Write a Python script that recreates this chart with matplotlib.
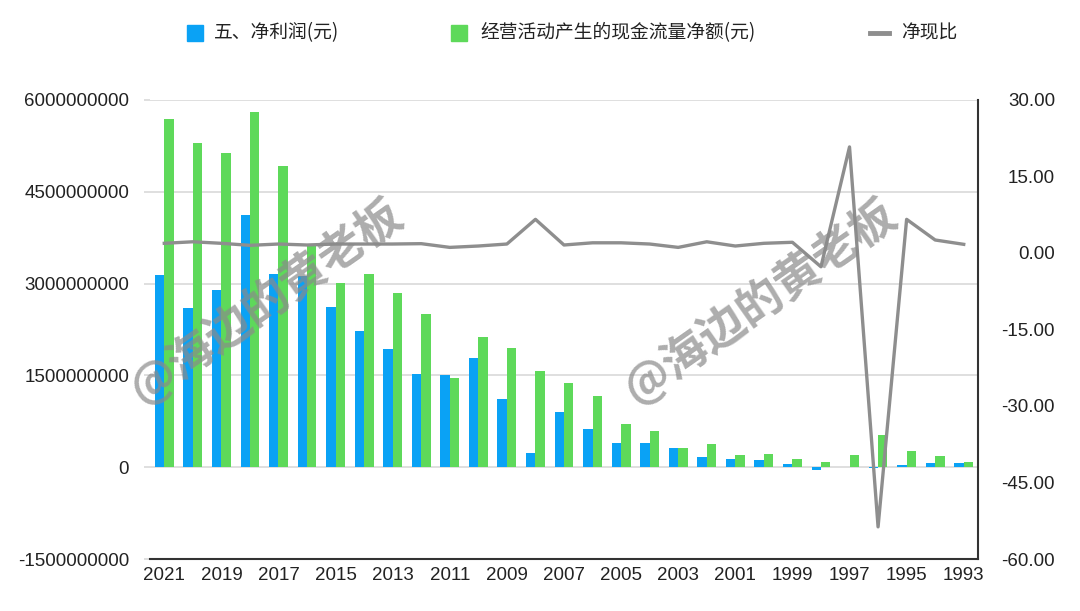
import matplotlib
matplotlib.use("Agg")
import matplotlib.pyplot as plt
from matplotlib import font_manager
from matplotlib.patches import Rectangle
from matplotlib.lines import Line2D
import numpy as np

years = [str(y) for y in range(2021, 1992, -1)]
net_profit = [3.14e9, 2.60e9, 2.90e9, 4.12e9, 3.16e9, 3.12e9, 2.61e9, 2.22e9, 1.93e9, 1.52e9,
              1.50e9, 1.79e9, 1.11e9, 0.23e9, 0.91e9, 0.62e9, 0.39e9, 0.39e9, 0.31e9, 0.16e9,
              0.14e9, 0.11e9, 0.055e9, -0.04e9, 0.01e9, -0.01e9, 0.04e9, 0.07e9, 0.065e9]
op_cash = [5.69e9, 5.29e9, 5.13e9, 5.81e9, 4.92e9, 3.64e9, 3.01e9, 3.16e9, 2.84e9, 2.51e9,
           1.46e9, 2.12e9, 1.95e9, 1.58e9, 1.37e9, 1.17e9, 0.71e9, 0.59e9, 0.31e9, 0.38e9,
           0.20e9, 0.22e9, 0.13e9, 0.09e9, 0.20e9, 0.53e9, 0.27e9, 0.18e9, 0.09e9]
cash_ratio = [1.9, 2.2, 1.9, 1.5, 1.76, 1.57, 1.76, 1.76, 1.76, 1.83,
              1.1, 1.37, 1.76, 6.6, 1.57, 2.0, 2.0, 1.76, 1.1, 2.2,
              1.37, 1.9, 2.1, -2.7, 20.8, -53.7, 6.6, 2.55, 1.7]
left_ticks = [-1500000000, 0, 1500000000, 3000000000, 4500000000, 6000000000]
right_ticks = [-60, -45, -30, -15, 0, 15, 30]
legend_labels = ["五、净利润(元)", "经营活动产生的现金流量净额(元)", "净现比"]
watermark = "@海边的黄老板"

def pick(names):
    for n in names:
        try:
            font_manager.findfont(n, fallback_to_default=False)
            return n
        except Exception:
            pass
    return "DejaVu Sans"

num_font = pick(["Liberation Sans", "DejaVu Sans"])
cjk = ["Noto Sans CJK SC", "DejaVu Sans"]

BLUE = "#0AA2F5"
GREEN = "#5ED95A"
GRAY = "#8E8E8E"
GRID = "#D9D9D9"

W, H = 1080, 611
fig = plt.figure(figsize=(10.8, 6.11), dpi=100)
L, R, T, B = 150, 978, 100, 559
ax = fig.add_axes([L / W, 1 - B / H, (R - L) / W, (B - T) / H])
x = np.arange(len(years))
w = 0.33
ax.bar(x - w / 2, net_profit, width=w, color=BLUE, zorder=2)
ax.bar(x + w / 2, op_cash, width=w, color=GREEN, zorder=2)
ax.set_ylim(-1.5e9, 6e9)
ax.set_xlim(-0.5, len(years) - 0.5)
ax.set_yticks(left_ticks)
ax.set_yticklabels([str(t) for t in left_ticks], fontfamily=num_font, fontsize=13.5)
ax.yaxis.grid(True, color=GRID, linewidth=1.2, zorder=0)
ax.set_axisbelow(True)
ax.set_xticks(x[::2])
ax.set_xticklabels(years[::2], fontfamily=num_font, fontsize=13.5)
ax.tick_params(axis="x", length=0, pad=6, colors="#222222")
ax.tick_params(axis="y", length=4, width=1.2, color=GRID, pad=11, labelcolor="#222222")
for s in ["left", "top", "right"]:
    ax.spines[s].set_visible(False)
ax.spines["bottom"].set_color("#333333")
ax.spines["bottom"].set_linewidth(1.5)

ax2 = ax.twinx()
ax2.plot(x, cash_ratio, color=GRAY, linewidth=2.4, zorder=3)
ax2.set_ylim(-60, 30)
ax2.set_yticks(right_ticks)
ax2.set_yticklabels([f"{t:.2f}" for t in right_ticks], fontfamily=num_font, fontsize=13.5,
                    ha="right")
ax2.tick_params(axis="y", length=0, pad=55.5, colors="#222222")
for s in ["left", "top", "bottom"]:
    ax2.spines[s].set_visible(False)
ax2.spines["right"].set_color("#333333")
ax2.spines["right"].set_linewidth(1.5)

# watermarks
for cx, cy in [(0.247, 0.505), (0.704, 0.505)]:
    fig.text(cx, cy, watermark, fontfamily=cjk, fontsize=33, fontweight="bold",
             color="#8a8a8a", alpha=0.7, rotation=35, ha="center", va="center",
             rotation_mode="anchor", zorder=10)

# legend (placed in figure pixels)
ly = 33
def fx(px):
    return px / W
def fy(py):
    return 1 - py / H
sq = 16
fig.patches.append(Rectangle((fx(187), fy(ly + sq / 2)), sq / W, sq / H, color=BLUE,
                             transform=fig.transFigure, figure=fig))
fig.text(fx(214), fy(ly), legend_labels[0], fontfamily=cjk, fontsize=13.5, va="center",
         ha="left", color="#222222")
fig.patches.append(Rectangle((fx(451), fy(ly + sq / 2)), sq / W, sq / H, color=GREEN,
                             transform=fig.transFigure, figure=fig))
fig.text(fx(480), fy(ly), legend_labels[1], fontfamily=cjk, fontsize=13.5, va="center",
         ha="left", color="#222222")
fig.lines.append(Line2D([fx(870), fx(889)], [fy(ly), fy(ly)], color=GRAY, linewidth=3.5,
                        transform=fig.transFigure, figure=fig))
fig.text(fx(901), fy(ly), legend_labels[2], fontfamily=cjk, fontsize=13.5, va="center",
         ha="left", color="#222222")

fig.savefig("out.png", dpi=100, facecolor="white")
